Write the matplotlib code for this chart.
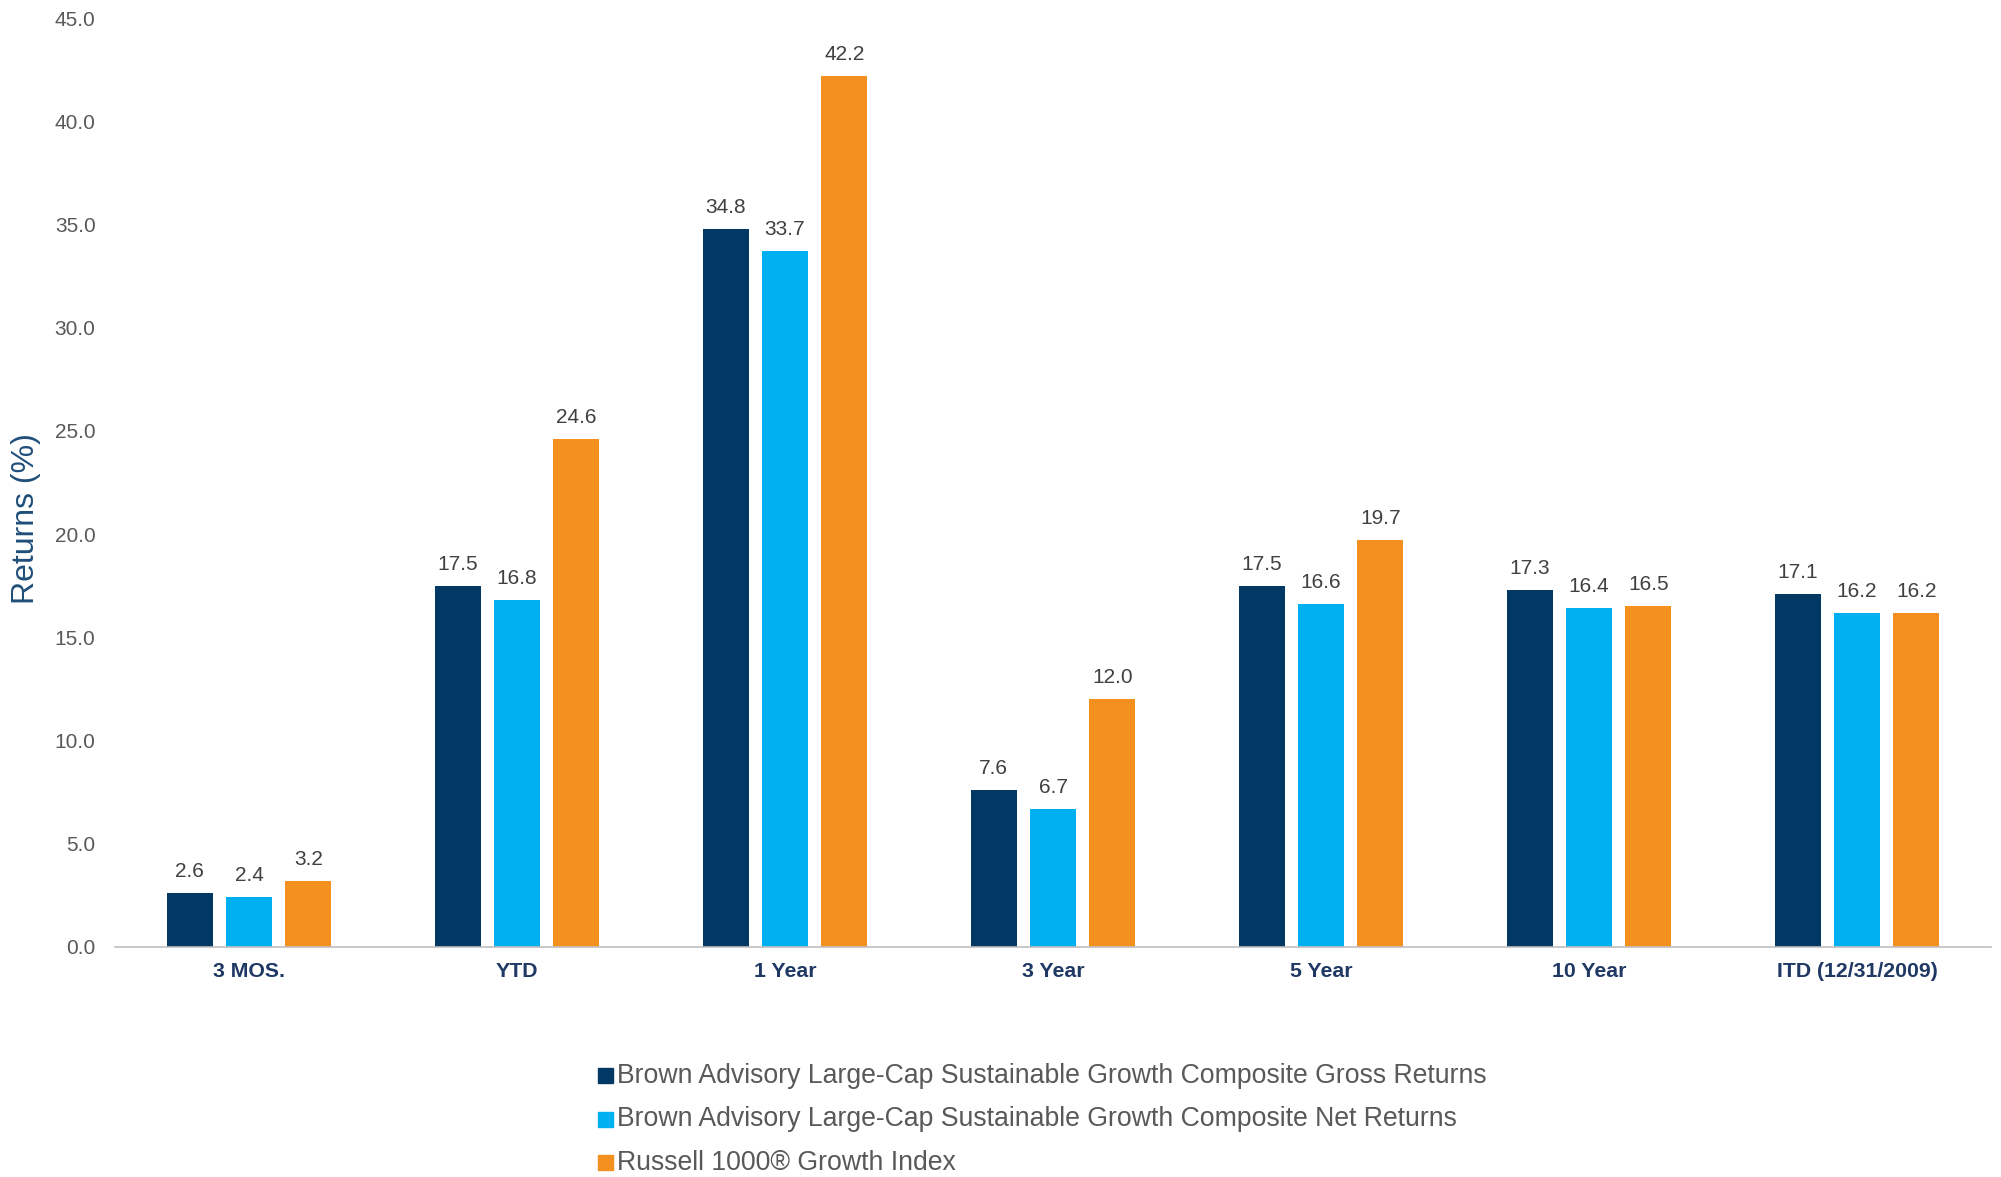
import matplotlib
matplotlib.use("Agg")
import matplotlib.pyplot as plt
from matplotlib.patches import Rectangle
import numpy as np

plt.rcParams['font.family'] = ['Liberation Sans', 'DejaVu Sans']

categories = ["3 MOS.", "YTD", "1 Year", "3 Year", "5 Year", "10 Year", "ITD (12/31/2009)"]
series_names = [
    "Brown Advisory Large-Cap Sustainable Growth Composite Gross Returns",
    "Brown Advisory Large-Cap Sustainable Growth Composite Net Returns",
    "Russell 1000\u00ae Growth Index",
]
gross = [2.6, 17.5, 34.8, 7.6, 17.5, 17.3, 17.1]
net = [2.4, 16.8, 33.7, 6.7, 16.6, 16.4, 16.2]
russell = [3.2, 24.6, 42.2, 12.0, 19.7, 16.5, 16.2]
yticks = [0, 5, 10, 15, 20, 25, 30, 35, 40, 45]

colors = ["#023864", "#00B0F0", "#F39020"]

W, H = 2001, 1177
fig = plt.figure(figsize=(W / 100, H / 100), dpi=100)
ax = fig.add_axes([115 / W, 1 - 947 / H, (1991 - 115) / W, (947 - 18) / H])

x = np.arange(len(categories))
bw = 0.171
offs = [-0.221, 0.0, 0.221]
for vals, c, o in zip([gross, net, russell], colors, offs):
    bars = ax.bar(x + o, vals, width=bw, color=c, zorder=2)
    for b, v in zip(bars, vals):
        ax.annotate(f"{v:.1f}", (b.get_x() + b.get_width() / 2, v),
                    xytext=(0, 11.5), textcoords='offset points',
                    ha='center', va='baseline', fontsize=15, color='#404040')

ax.set_xlim(-0.5, len(categories) - 0.5)
ax.set_ylim(0, 45)
ax.set_yticks(yticks)
ax.set_yticklabels([f"{t:.1f}" for t in yticks], fontsize=15, color='#595959')
ax.set_xticks(x)
ax.set_xticklabels(categories, fontsize=15.3, fontweight='bold', color='#1F3864')
ax.tick_params(axis='y', length=0, pad=14)
ax.tick_params(axis='x', length=0, pad=11)
for s in ['top', 'right', 'left']:
    ax.spines[s].set_visible(False)
ax.spines['bottom'].set_color('#BFBFBF')
ax.spines['bottom'].set_linewidth(1.2)

fig.text(26 / W, 1 - 519 / H, "Returns (%)", rotation=90, ha='center', va='center',
         fontsize=23, color='#1F4E79')

baselines = [1083, 1126.5, 1170]
for name, c, yb in zip(series_names, colors, baselines):
    sq = 15
    fig.patches.append(Rectangle((598 / W, 1 - yb / H), sq / W, sq / H,
                                 transform=fig.transFigure, color=c, figure=fig))
    fig.text(617 / W, 1 - yb / H, name, ha='left', va='baseline', fontsize=19.2, color='#595959')

fig.savefig("out.png", dpi=100)
